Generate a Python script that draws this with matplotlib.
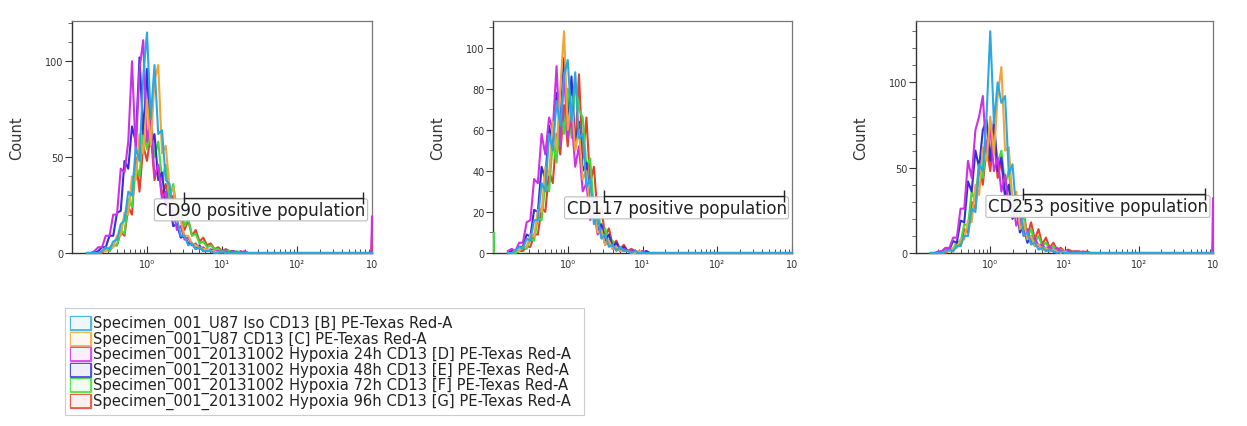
import numpy as np
import matplotlib
matplotlib.use("Agg")
import matplotlib.pyplot as plt
from matplotlib.patches import Rectangle
from matplotlib.ticker import MultipleLocator, FixedLocator, LogLocator, NullFormatter

plt.rcParams['font.family'] = ['DejaVu Sans']

# channel centres (log10 of fluorescence), shared by all histograms
log_bins = np.arange(-0.8, 1.401, 0.05)
# last channel of the scale, holds the saturated events
top_bins = [2.99, 3.0]

names = ["Specimen_001_U87 Iso CD13 [B] PE-Texas Red-A",
         "Specimen_001_U87 CD13 [C] PE-Texas Red-A",
         "Specimen_001_20131002 Hypoxia 24h CD13 [D] PE-Texas Red-A",
         "Specimen_001_20131002 Hypoxia 48h CD13 [E] PE-Texas Red-A",
         "Specimen_001_20131002 Hypoxia 72h CD13 [F] PE-Texas Red-A",
         "Specimen_001_20131002 Hypoxia 96h CD13 [G] PE-Texas Red-A"]
colors = ["#2aa8e2", "#f2a436", "#cf2fe8", "#3030d6", "#3ddc3d", "#e6402a"]

# --- CD90
cd90_B = [0,0,0,0,1,3,2,6,7,15, 17,32,30,55,48,92,115,70,98,62, 64,38,36,20,18,9,9,4,5,2, 3,1,1,1,0,0,1,0,0,0, 0,0,0,0,0]
cd90_C = [0,0,0,0,1,1,3,3,9,9, 21,20,40,38,62,52,80,56,90,98, 52,56,34,34,18,17,9,9,5,4, 3,2,2,1,1,0,1,0,0,0, 0,0,0,0,0]
cd90_D = [0,0,1,3,3,9,9,20,20,44, 42,58,100,52,96,111,58,70,40,46, 28,32,20,22,12,14,7,8,4,5, 2,3,1,2,1,1,0,1,0,1, 0,0,1,0,0]
cd90_E = [0,0,0,1,3,3,9,9,21,22, 48,44,66,58,102,62,96,56,62,38, 42,24,26,14,15,8,9,5,5,2, 4,1,2,1,1,0,1,0,0,1, 0,0,0,0,0]
cd90_F = [0,0,0,0,1,2,1,4,4,12, 10,28,24,46,40,64,54,72,50,58, 38,46,28,36,22,26,14,18,9,10, 5,6,3,4,2,2,1,1,1,0, 1,0,0,0,0]
cd90_G = [0,0,0,0,0,2,1,4,4,11, 9,24,20,50,32,56,48,62,38,46, 30,36,22,30,18,22,12,17,9,12, 6,8,4,5,2,3,1,2,1,1, 0,1,0,0,0]
cd90_top = [0, 0, 19, 0, 0, 8]
cd90_low = [0, 0, 0, 0, 0, 0]

# --- CD117
cd117_B = [0,0,1,3,2,7,6,16,16,34, 30,58,50,74,62,86,94,64,88,56, 58,32,36,14,18,7,9,3,4,1, 3,1,1,0,1,0,0,0,0,0, 0,0,0,0,0]
cd117_C = [0,0,1,1,3,3,9,8,21,20, 42,38,64,50,80,108,60,76,50,60, 36,40,20,24,10,11,4,6,2,3, 1,1,1,0,0,1,0,0,0,0, 0,0,0,0,0]
cd117_D = [1,2,1,5,5,15,16,36,34,58, 48,66,60,91,52,88,56,66,42,52, 30,34,16,20,9,12,4,6,2,3, 1,2,1,1,0,0,1,0,0,0, 0,0,0,0,0]
cd117_E = [0,1,1,3,3,9,8,21,20,42, 36,62,52,78,62,95,60,86,52,64, 40,44,22,26,11,14,6,9,3,5, 1,3,1,1,1,0,0,1,0,0, 0,0,0,0,0]
cd117_F = [0,0,0,1,3,2,7,6,17,16, 34,30,54,44,68,58,80,56,83,70, 66,42,46,20,24,8,12,4,6,2, 3,1,1,1,0,0,0,0,0,0, 0,0,0,0,0]
cd117_G = [0,0,0,1,1,3,3,9,9,22, 20,40,34,58,48,72,52,76,50,87, 46,66,34,42,18,22,8,12,4,6, 2,4,1,2,1,0,1,0,0,0, 0,0,0,0,0]
cd117_top = [0, 0, 0, 0, 0, 0]
cd117_low = [0, 0, 0, 0, 10, 0]

# --- CD253
cd253_B = [0,0,0,0,1,2,1,4,4,10, 10,26,24,52,48,80,130,76,100,88, 92,46,52,24,28,10,12,5,6,2, 3,1,2,1,0,1,0,0,0,0, 0,0,0,0,0]
cd253_C = [0,0,0,0,1,1,3,3,8,8, 19,18,40,34,62,54,80,58,92,109, 60,62,30,36,14,18,8,10,4,5, 2,3,1,2,1,0,1,0,0,0, 0,0,0,0,0]
cd253_D = [0,0,1,1,3,3,9,9,26,26, 54,44,72,80,92,56,74,48,56,36, 46,26,32,16,22,10,14,6,9,4, 5,2,4,1,3,1,1,1,0,1, 0,1,0,0,0]
cd253_E = [0,0,0,1,3,2,7,6,19,18, 42,36,60,50,72,78,54,78,48,56, 34,40,20,26,12,16,6,10,4,5, 2,3,1,2,1,1,0,1,0,0, 0,0,0,0,0]
cd253_F = [0,0,0,0,1,3,2,7,6,17, 16,36,30,54,44,66,56,72,52,60, 40,48,26,34,16,22,9,14,6,10, 4,6,2,4,1,2,1,1,0,1, 0,0,0,0,0]
cd253_G = [0,0,0,0,0,2,1,6,4,14, 12,30,26,50,40,62,48,68,44,54, 32,40,22,30,16,24,10,18,8,14, 5,9,3,6,2,3,1,2,1,1, 1,0,1,0,0]
cd253_top = [0, 0, 32, 0, 0, 6]
cd253_low = [0, 0, 0, 0, 0, 0]

panels = [
    dict(label="CD90 positive population", series=[cd90_B, cd90_C, cd90_D, cd90_E, cd90_F, cd90_G],
         top=cd90_top, low=cd90_low, ymax=121, step=50, gate=(3.16, 770, 28.6), text=(10**1.52, 22.5),
         rect=[72/1247, 173/427, 300/1247, 232/427]),
    dict(label="CD117 positive population", series=[cd117_B, cd117_C, cd117_D, cd117_E, cd117_F, cd117_G],
         top=cd117_top, low=cd117_low, ymax=113, step=20, gate=(3.1, 770, 28.0), text=(10**1.455, 22.0),
         rect=[493/1247, 173/427, 299/1247, 232/427]),
    dict(label="CD253 positive population", series=[cd253_B, cd253_C, cd253_D, cd253_E, cd253_F, cd253_G],
         top=cd253_top, low=cd253_low, ymax=136, step=50, gate=(2.8, 780, 34.7), text=(10**1.45, 27.3),
         rect=[916/1247, 173/427, 297/1247, 232/427]),
]

fig = plt.figure(figsize=(12.47, 4.27), dpi=100)

for p in panels:
    ax = fig.add_axes(p["rect"])
    x = 10 ** np.concatenate([log_bins, top_bins])
    # draw Iso control last so it sits on top
    for k in range(5, -1, -1):
        y = np.concatenate([p["series"][k], [0, p["top"][k]]])
        ax.plot(x, y, color=colors[k], lw=1.5, zorder=3 - k * 0.01, clip_on=False)
        if p["low"][k] > 0:
            ax.vlines(10 ** -0.985, 0, p["low"][k], color=colors[k], lw=1.5, zorder=3)

    ax.set_xscale("log")
    ax.set_xlim(0.1, 1000)
    ax.set_ylim(0, p["ymax"])

    ax.xaxis.set_major_locator(FixedLocator([1, 10, 100, 1000]))
    ax.set_xticklabels(["10⁰", "10¹", "10²", "10"])
    ax.xaxis.set_minor_locator(LogLocator(base=10, subs=np.arange(2, 10)))
    ax.xaxis.set_minor_formatter(NullFormatter())
    ax.tick_params(axis="x", which="major", direction="in", length=5, labelsize=7,
                   colors="#333333", pad=4)
    ax.tick_params(axis="x", which="minor", direction="in", length=3, color="#333333")

    ax.yaxis.set_major_locator(MultipleLocator(p["step"]))
    ax.yaxis.set_minor_locator(MultipleLocator(10))
    ax.tick_params(axis="y", which="major", direction="out", length=5, labelsize=7,
                   colors="#333333", pad=1)
    ax.tick_params(axis="y", which="minor", direction="out", length=3, color="#555555")

    for side in ["top", "right"]:
        ax.spines[side].set_color("#777777")
        ax.spines[side].set_linewidth(0.9)
    for side in ["left", "bottom"]:
        ax.spines[side].set_color("#333333")
        ax.spines[side].set_linewidth(1.0)

    # gate label, then the gate marker drawn over it
    ax.text(p["text"][0], p["text"][1], p["label"], ha="center", va="center", fontsize=12,
            color="#222222", zorder=5,
            bbox=dict(boxstyle="round,pad=0.12", fc="white", ec="#b5b5b5", lw=0.8, alpha=0.9))
    g1, g2, gy = p["gate"]
    ax.plot([g1, g2], [gy, gy], color="#222222", lw=1.0, zorder=6)
    ax.plot([g1, g2], [gy, gy], ls="none", marker="|", ms=8, mew=1.0, color="#222222", zorder=6)

    # y label
    left = p["rect"][0] * 1247
    fig.text((left - 55) / 1247, 1 - 138 / 427, "Count", rotation=90, ha="center", va="center",
             fontsize=10.5, color="#333333")

# --- legend
fig.patches.append(Rectangle((65 / 1247, 1 - 416 / 427), 519 / 1247, 107 / 427,
                             transform=fig.transFigure, fc="white", ec="#cccccc", lw=0.8))
for i in range(6):
    top = 317 + 15.5 * i
    fig.patches.append(Rectangle((70 / 1247, 1 - (top + 14) / 427), 21 / 1247, 14 / 427,
                                 transform=fig.transFigure, fc=colors[i], ec=colors[i],
                                 lw=1.0, alpha=0.75))
    fig.patches.append(Rectangle((71 / 1247, 1 - (top + 13) / 427), 19 / 1247, 12 / 427,
                                 transform=fig.transFigure, fc="white", ec="none", alpha=0.9))
    fig.text(93 / 1247, 1 - (top + 7) / 427, names[i], ha="left", va="center",
             fontsize=10.6, color="#222222")

fig.savefig("out.png", dpi=100)
